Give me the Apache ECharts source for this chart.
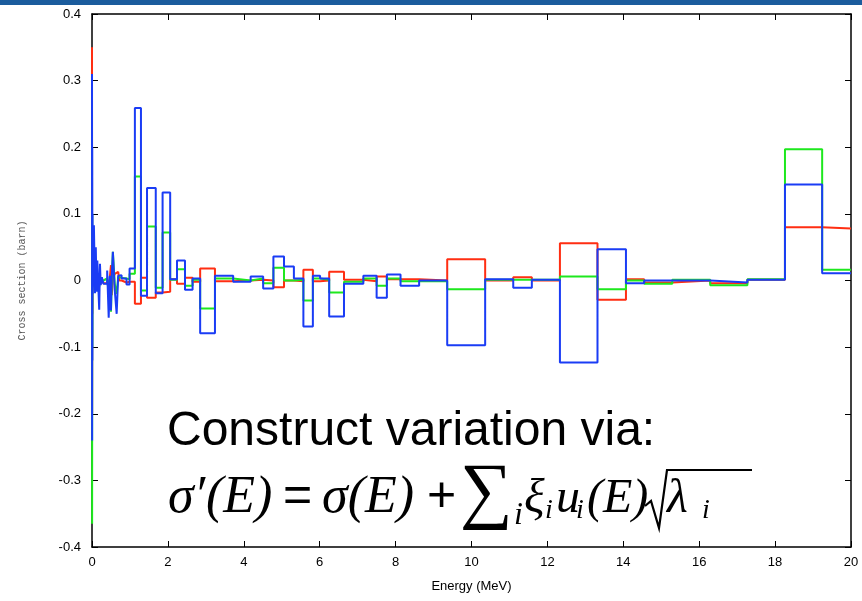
<!DOCTYPE html>
<html>
<head>
<meta charset="utf-8">
<script src="https://cdn.jsdelivr.net/npm/echarts@6/dist/echarts.min.js"></script>
<style>html,body{margin:0;padding:0;background:#fff;}#c{width:862px;height:601px;}</style>
</head>
<body>
<div id="c"></div>
<script>
// Energy group boundaries (MeV)
const edges = [0, 0.003, 0.006, 0.01, 0.015, 0.02, 0.05, 0.08, 0.1, 0.12, 0.14, 0.19, 0.21, 0.23, 0.26, 0.3, 0.4, 0.44, 0.47, 0.5, 0.52, 0.55, 0.6, 0.65, 0.69, 0.72, 0.78, 0.91, 0.99, 1.13,
  1.29, 1.45, 1.68, 1.86, 2.06, 2.24, 2.45, 2.65, 2.85, 3.24, 3.72, 4.18, 4.51, 4.78, 5.06, 5.32, 5.57, 5.82, 6.01, 6.25, 6.64, 7.15, 7.50, 7.77, 8.13, 8.62, 9.36, 10.36, 11.10, 11.59, 12.33, 13.32, 14.07, 14.55, 15.29, 16.29, 17.27, 18.26, 19.24, 20];

// group values (barn), one per bin
const redValues = [0.35, -0.2, 0.05, -0.05, 0.02, -0.005, 0.004, -0.003, 0.002, -0.002, 0.003, -0.004, 0.002, -0.003, 0.002, -0.004, 0.0, -0.003, 0.005, 0.023, -0.022, 0.003, 0.01, 0.013, 0.011, 0.0, -0.003, -0.002, -0.002,
  -0.035, 0.004, -0.026, -0.018, -0.017, 0.002, -0.005, 0.004, -0.002, 0.018, -0.001, 0.0, 0.001, 0.0, -0.01, 0.0, -0.001, 0.016, -0.001, 0.0, 0.013, 0.001, -0.001, 0.006, 0.002, 0.002, 0.0, 0.032, 0.0, 0.005, 0.0, 0.056, -0.029, 0.002, -0.003, 0.0, -0.004, 0.001, 0.080, 0.078];
const greenValues = [0.27, -0.365, 0.1, -0.1, 0.04, -0.01, 0.01, -0.005, 0.004, -0.004, 0.006, -0.01, 0.003, -0.003, 0.0, 0.003, 0.003, -0.02, 0.005, -0.047, 0.0, 0.043, -0.005, -0.02, 0.005, 0.004, 0.003, 0.002, 0.01,
  0.156, -0.015, 0.081, -0.011, 0.072, 0.001, 0.017, -0.008, 0.001, -0.042, 0.003, 0.0, 0.003, -0.004, 0.019, 0.0, 0.001, -0.03, 0.003, 0.001, -0.018, -0.002, 0.003, -0.008, 0.003, -0.001, -0.001, -0.013, 0.001, 0.001, 0.001, 0.006, -0.013, 0.0, -0.005, 0.001, -0.007, 0.002, 0.197, 0.016];
const blueValues = [0.31, -0.24, 0.2, -0.12, 0.1, -0.02, 0.083, -0.019, 0.05, -0.017, 0.03, -0.044, 0.025, -0.007, 0.005, -0.005, 0.015, -0.056, 0.007, -0.045, 0.005, 0.043, -0.015, -0.05, 0.007, 0.008, 0.003, -0.006, 0.018,
  0.259, -0.023, 0.139, -0.019, 0.132, 0.002, 0.030, -0.014, 0.003, -0.079, 0.007, -0.002, 0.006, -0.012, 0.036, 0.021, 0.003, -0.069, 0.007, 0.003, -0.054, -0.005, 0.007, -0.026, 0.009, -0.008, 0.0, -0.097, 0.002, -0.011, 0.001, -0.123, 0.047, -0.004, 0.0, 0.0, -0.003, 0.001, 0.144, 0.011];

const xTicks = [0, 2, 4, 6, 8, 10, 12, 14, 16, 18, 20];
const yTicks = [-0.4, -0.3, -0.2, -0.1, 0, 0.1, 0.2, 0.3, 0.4];

function stepData(vals) {
  return edges.map((e, i) => [e, i < vals.length ? vals[i] : vals[vals.length - 1]]);
}

const chart = echarts.init(document.getElementById('c'), null, {renderer: 'canvas'});
const sans = '"Liberation Sans", Arial, Helvetica, sans-serif';
const serif = '"Liberation Serif", "Times New Roman", "DejaVu Serif", serif';
const axisCommon = {
  type: 'value', min: xTicks[0], max: xTicks[xTicks.length - 1], interval: 2,
  axisLine: {show: true, onZero: false, lineStyle: {color: '#000', width: 1.5}},
  axisTick: {show: true, inside: true, length: 6, lineStyle: {color: '#000', width: 1}},
  splitLine: {show: false}
};
const yCommon = {
  type: 'value', min: yTicks[0], max: yTicks[yTicks.length - 1], interval: 0.1,
  axisLine: {show: true, onZero: false, lineStyle: {color: '#000', width: 1.5}},
  axisTick: {show: true, inside: true, length: 6, lineStyle: {color: '#000', width: 1}},
  splitLine: {show: false}
};

const textEls = [];
function t(str, x, y, size, italic, font) {
  textEls.push({type: 'text', left: x, top: y, z: 100,
    style: {text: str, fill: '#000', font: (italic ? 'italic ' : '') + size + 'px ' + (font || serif)}});
}
// formula
t('Construct variation via:', 167, 408, 48, false, sans);
t('σ′', 168, 472, 52, true);
t('(E)', 206, 472, 52, true);
t('=', 283, 472, 50, false, sans);
t('σ(E)', 322, 472, 52, true);
t('+', 427, 472, 50, false, sans);
t('∑', 460, 458, 74, false);
t('i', 514, 500, 32, true);
t('ξ', 524, 475, 48, true);
t('i', 545, 497, 28, true);
t('u', 556, 475, 48, true);
t('i', 576, 497, 28, true);
t('(E)', 587, 475, 48, true);
t('λ', 667, 475, 48, true);
t('i', 702, 497, 28, true);

chart.setOption({
  animation: false,
  backgroundColor: '#fff',
  grid: {left: 92, right: 11, top: 14, bottom: 54, containLabel: false},
  xAxis: [
    Object.assign({}, axisCommon, {position: 'bottom',
      axisLabel: {show: true, color: '#000', fontSize: 13, fontFamily: sans, margin: 9},
      name: 'Energy (MeV)', nameLocation: 'middle', nameGap: 33,
      nameTextStyle: {color: '#000', fontSize: 13, fontFamily: sans}}),
    Object.assign({}, axisCommon, {position: 'top', axisLabel: {show: false}})
  ],
  yAxis: [
    Object.assign({}, yCommon, {position: 'left',
      axisLabel: {show: true, color: '#000', fontSize: 13, fontFamily: sans, margin: 11,
        formatter: v => Math.abs(v) < 1e-9 ? '0' : (Math.round(v * 10) / 10).toFixed(1)},
      name: 'Cross section (barn)', nameLocation: 'middle', nameGap: 65, nameRotate: 90,
      nameTextStyle: {color: '#555', fontSize: 10, fontFamily: '"Liberation Mono", "DejaVu Sans Mono", monospace'}}),
    Object.assign({}, yCommon, {position: 'right', axisLabel: {show: false}})
  ],
  series: [
    {name: 'red', type: 'line', step: 'end', showSymbol: false, data: stepData(redValues), z: 2,
      lineStyle: {color: '#ff2e12', width: 2}, itemStyle: {color: '#ff2e12'}},
    {name: 'green', type: 'line', step: 'end', showSymbol: false, data: stepData(greenValues), z: 3,
      lineStyle: {color: '#1ee81e', width: 2}, itemStyle: {color: '#1ee81e'}},
    {name: 'blue', type: 'line', step: 'end', showSymbol: false, data: stepData(blueValues), z: 4,
      lineStyle: {color: '#1a3cf5', width: 2}, itemStyle: {color: '#1a3cf5'}}
  ],
  graphic: [
    {type: 'rect', left: 0, top: 0, z: 100, shape: {width: 862, height: 5}, style: {fill: '#1b5c9d'}},
    {type: 'polyline', z: 100, shape: {points: [[645, 506], [651, 501], [659, 528], [667, 470], [752, 470]]},
      style: {stroke: '#000', lineWidth: 2.2, fill: null}}
  ].concat(textEls)
});
</script>
</body>
</html>
